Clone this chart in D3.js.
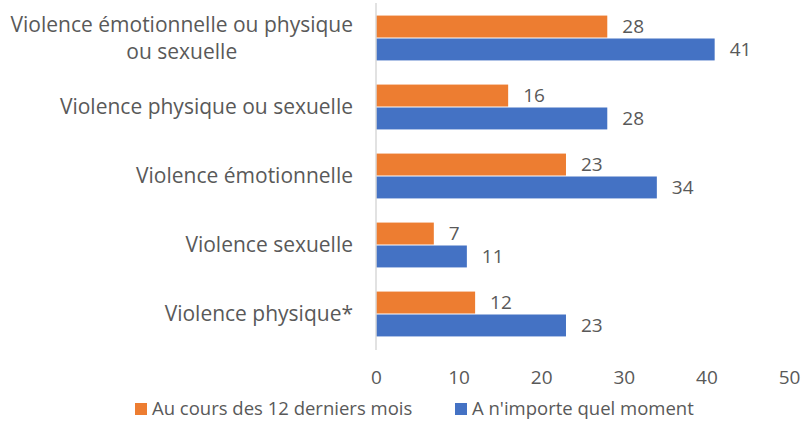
<!DOCTYPE html>
<html>
<head>
<meta charset="utf-8">
<script src="https://d3js.org/d3.v7.min.js"></script>
<style>
  body { margin: 0; background: #fff; }
  text { font-family: "Open Sans", sans-serif; fill: #595959; }
</style>
</head>
<body>
<script>
// data
var categories = [
  "Violence émotionnelle ou physique|ou sexuelle",
  "Violence physique ou sexuelle",
  "Violence émotionnelle",
  "Violence sexuelle",
  "Violence physique*"
];
var seriesNames = ["Au cours des 12 derniers mois", "A n'importe quel moment"];
var last12 = [28, 16, 23, 7, 12];
var anyTime = [41, 28, 34, 11, 23];
var xTicks = [0, 10, 20, 30, 40, 50];
var colors = ["#ed7d31", "#4472c4"];

var W = 801, H = 421;
var svg = d3.select("body").append("svg")
  .attr("width", W)
  .attr("height", H);

var x = d3.scaleLinear().domain([0, 50]).range([376, 789]);
var y = d3.scaleBand().domain(d3.range(categories.length)).range([3.5, 348.5]).paddingInner(0.35).paddingOuter(0.175);
var y1 = d3.scaleBand().domain([0, 1]).range([0, y.bandwidth()]);

var rows = categories.map(function(c, i) { return { cat: c, vals: [last12[i], anyTime[i]] }; });

var g = svg.selectAll("g.row")
  .data(rows)
  .enter().append("g")
  .attr("class", "row")
  .attr("transform", function(d, i) { return "translate(0," + y(i) + ")"; });

g.selectAll("rect")
  .data(function(d) { return d.vals; })
  .enter().append("rect")
  .attr("x", x(0))
  .attr("y", function(d, j) { return y1(j) + (j == 1 ? 0.5 : 0); })
  .attr("height", y1.bandwidth() - 0.5)
  .attr("width", function(d) { return x(d) - x(0); })
  .attr("fill", function(d, j) { return colors[j]; });

g.selectAll("text.val")
  .data(function(d) { return d.vals; })
  .enter().append("text")
  .attr("class", "val")
  .attr("x", function(d) { return x(d) + 15; })
  .attr("y", function(d, j) { return y1(j) + y1.bandwidth() / 2; })
  .attr("dy", "0.35em")
  .style("font-size", "19px")
  .text(function(d) { return d; });

// vertical axis line
svg.append("line")
  .attr("x1", x(0)).attr("x2", x(0))
  .attr("y1", 3).attr("y2", 350)
  .attr("stroke", "#d9d9d9").attr("stroke-width", 1.5);

// category labels
rows.forEach(function(d, i) {
  var lines = d.cat.split("|");
  var cy = y(i) + y.bandwidth() / 2;
  if (lines.length == 1) {
    svg.append("text")
      .attr("x", 353).attr("y", cy).attr("dy", "0.35em")
      .attr("text-anchor", "end")
      .style("font-size", "21px")
      .text(lines[0]);
  } else {
    var t1 = svg.append("text")
      .attr("x", 353).attr("y", cy - 13.5).attr("dy", "0.35em")
      .attr("text-anchor", "end")
      .style("font-size", "21px")
      .text(lines[0]);
    var w = t1.node().getComputedTextLength();
    svg.append("text")
      .attr("x", 353 - w / 2).attr("y", cy + 13.5).attr("dy", "0.35em")
      .attr("text-anchor", "middle")
      .style("font-size", "21px")
      .text(lines[1]);
  }
});

// x axis tick labels
var xAxis = d3.axisBottom(x).tickValues(xTicks).tickSize(0).tickPadding(0);
var ax = svg.append("g").attr("transform", "translate(0,370)").call(xAxis);
ax.select(".domain").remove();
ax.selectAll("text").style("font-size", "19px").style("font-family", "'Open Sans', sans-serif").attr("fill", "#595959");

// legend
var legX = [135, 455];
seriesNames.forEach(function(s, j) {
  svg.append("rect")
    .attr("x", legX[j]).attr("y", 403)
    .attr("width", 12).attr("height", 12)
    .attr("fill", colors[j]);
  svg.append("text")
    .attr("x", legX[j] + 17).attr("y", 408.5).attr("dy", "0.35em")
    .style("font-size", "18.5px")
    .text(s);
});
</script>
</body>
</html>
